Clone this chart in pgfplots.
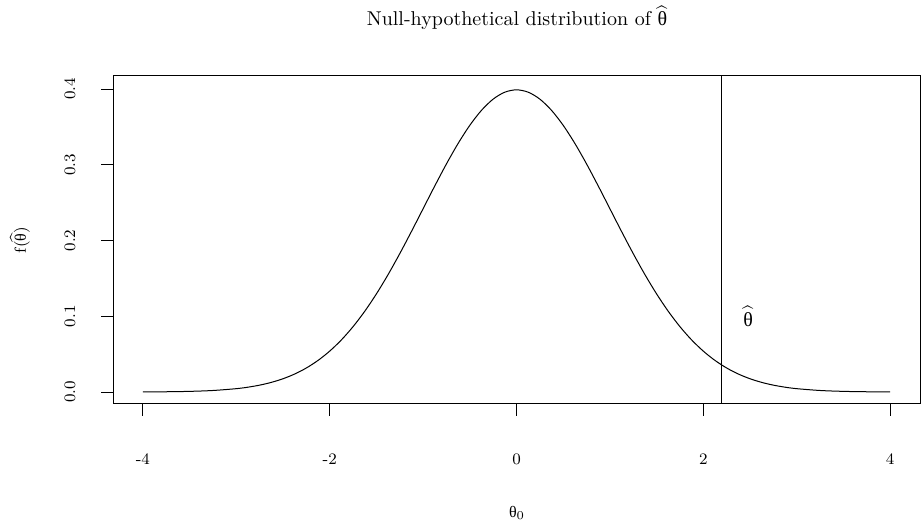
\documentclass[border=0pt]{standalone}
\usepackage{amsmath}
\usepackage{fontspec}
\newfontfamily\grk{Liberation Serif}
\usepackage{pgfplots}
\pgfplotsset{compat=1.18}
\newcommand{\thup}{\mbox{\grk θ}}
\newcommand{\thhat}{$\widehat{\thup}$}
\begin{document}
\begin{tikzpicture}
\useasboundingbox (0,0) rectangle (461pt,263pt);
\begin{axis}[
  at={(56.5pt,61pt)}, anchor=south west,
  scale only axis, width=403.5pt, height=164pt,
  xmin=-4.32, xmax=4.32, ymin=-0.0158, ymax=0.4172,
  axis line style={line width=0.5pt},
  tick style={line width=0.5pt, black},
  tick align=outside, major tick length=6pt,
  tick pos=left,
  xtick={-4,-2,0,2,4}, xticklabels={-4,-2,0,2,4},
  ytick={0,0.1,0.2,0.3,0.4}, yticklabels={0.0,0.1,0.2,0.3,0.4},
  xticklabel style={anchor=center, font=\fontsize{8}{9.6}\selectfont},
  yticklabel style={anchor=center, rotate=90, font=\fontsize{8}{9.6}\selectfont},
  xticklabel shift=21.5pt,
  yticklabel shift=15.5pt,
  clip=true,
]
\addplot[black, line width=0.5pt, smooth] coordinates {
(-4.0,0.000134) (-3.75,0.000353) (-3.5,0.000873) (-3.25,0.002029)
(-3.0,0.004432) (-2.875,0.006398) (-2.75,0.009094) (-2.625,0.012724)
(-2.5,0.017528) (-2.375,0.023772) (-2.25,0.031740) (-2.125,0.041721)
(-2.0,0.053991) (-1.875,0.068786) (-1.75,0.086277) (-1.625,0.106538)
(-1.5,0.129518) (-1.375,0.155012) (-1.25,0.182649) (-1.125,0.211876)
(-1.0,0.241971) (-0.875,0.272056) (-0.75,0.301137) (-0.625,0.328160)
(-0.5,0.352065) (-0.375,0.371854) (-0.25,0.386668) (-0.125,0.395837)
(0,0.398942)
(0.125,0.395837) (0.25,0.386668) (0.375,0.371854) (0.5,0.352065)
(0.625,0.328160) (0.75,0.301137) (0.875,0.272056) (1.0,0.241971)
(1.125,0.211876) (1.25,0.182649) (1.375,0.155012) (1.5,0.129518)
(1.625,0.106538) (1.75,0.086277) (1.875,0.068786) (2.0,0.053991)
(2.125,0.041721) (2.25,0.031740) (2.375,0.023772) (2.5,0.017528)
(2.625,0.012724) (2.75,0.009094) (2.875,0.006398) (3.0,0.004432)
(3.25,0.002029) (3.5,0.000873) (3.75,0.000353) (4.0,0.000134)
};
\addplot[black, line width=0.5pt] coordinates {(2.2,-1) (2.2,1)};
\node[font=\fontsize{10}{12}\selectfont] at (axis cs:2.48,0.1) {\thhat};
\end{axis}
\node[font=\fontsize{10}{12}\selectfont] at (258.5pt,254pt) {Null-hypothetical distribution of \thhat};
\node[font=\fontsize{8}{9.6}\selectfont] at (258.5pt,6.5pt) {$\thup_0$};
\node[font=\fontsize{8}{9.6}\selectfont, rotate=90] at (10pt,143pt) {f(\thhat)};
\end{tikzpicture}
\end{document}
